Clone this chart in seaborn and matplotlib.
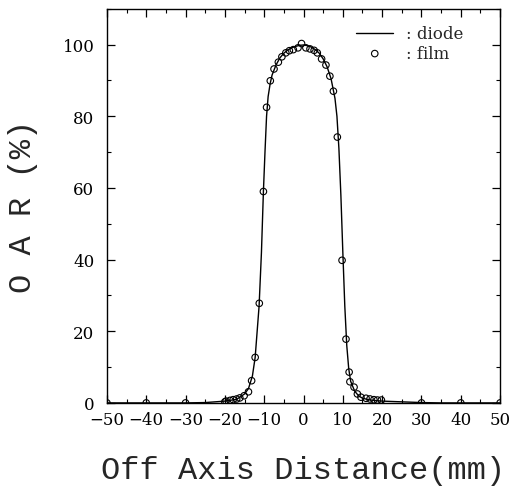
import matplotlib
matplotlib.use("Agg")
import matplotlib.pyplot as plt
import seaborn as sns
import pandas as pd
from matplotlib.ticker import MultipleLocator, FuncFormatter

# Diode (line) data
diode_x = [-50, -40, -30, -25, -20, -17, -15, -14, -13, -12.3, -11.3, -10.7, -10.2, -9.8, -9.4,
           -9, -8.5, -8, -7, -6, -5, -4, -3, -2, -1, 0, 1, 2, 3, 4, 5, 6, 7, 8, 8.5, 9, 9.5,
           10, 10.5, 11, 11.5, 12, 13, 14, 15, 17, 20, 25, 30, 35, 40, 50]
diode_y = [0, 0, 0, 0.1, 0.5, 1.0, 2.5, 4.0, 7.5, 12.7, 27, 42, 59, 70, 80,
           85.5, 89, 91.5, 94.3, 96.3, 97.6, 98.5, 99.1, 99.5, 99.8, 99.9, 99.7, 99.3, 98.6, 97.6, 96.0, 93.8, 90.5, 85, 80, 71, 58,
           42, 27, 16, 9.5, 6, 3.3, 2.0, 1.3, 0.8, 0.5, 0.3, 0.1, 0, 0, 0]

# Film (open circles) data
film_x = [-50, -40, -30, -20, -19.7, -18.7, -17.9, -17, -16.2, -15.1, -14.0, -13.2, -12.3, -11.25, -10.2,
          -9.4, -8.45, -7.5, -6.4, -5.5, -4.5, -3.6, -2.6, -1.4, -0.5, 0.6, 1.65, 2.7, 3.5, 4.6,
          5.7, 6.7, 7.6, 8.6, 9.8, 10.8, 11.6, 11.8, 12.85, 13.7, 14.6, 15.9, 16.9, 17.9, 18.8,
          19.8, 30, 40, 50]
film_y = [0, 0, 0, 0.3, 0.5, 0.7, 0.9, 1.1, 1.4, 2.0, 3.1, 6.2, 12.7, 27.8, 59,
          82.5, 89.9, 93.2, 95.1, 96.6, 97.7, 98.3, 98.6, 99.1, 100.3, 99.1, 98.8, 98.4, 97.7, 96.0,
          94.3, 91.2, 87.0, 74.2, 39.8, 17.8, 8.6, 5.9, 4.4, 2.5, 1.6, 1.3, 1.1, 0.9, 0.8,
          0.8, 0, 0, 0]

xticks = [-50, -40, -30, -20, -10, 0, 10, 20, 30, 40, 50]
yticks = [0, 20, 40, 60, 80, 100]

diode = pd.DataFrame({"x": diode_x, "y": diode_y})
film = pd.DataFrame({"x": film_x, "y": film_y})

sns.set_style("ticks")
plt.rcParams["font.family"] = ["DejaVu Serif"]

fig = plt.figure(figsize=(5.14, 4.89), dpi=100)
ax = fig.add_axes([0.208, 0.174, 0.765, 0.806])

sns.lineplot(data=diode, x="x", y="y", ax=ax, color="black", linewidth=1.0,
             label=": diode", sort=False)
sns.scatterplot(data=film, x="x", y="y", ax=ax, marker="o", s=22,
                facecolors="none", edgecolor="black", linewidth=0.8, label=": film")

ax.set_xlim(-50, 50)
ax.set_ylim(0, 110)
ax.set_xticks(xticks)
ax.set_yticks(yticks)
ax.xaxis.set_minor_locator(MultipleLocator(5))
ax.yaxis.set_minor_locator(MultipleLocator(10))
ax.xaxis.set_major_formatter(FuncFormatter(lambda v, p: f"{int(v)}".replace("-", "\u2212")))
ax.tick_params(which="both", direction="in", top=True, right=True, colors="black",
               labelsize=12)
ax.tick_params(which="major", length=6, width=0.9)
ax.tick_params(which="minor", length=3, width=0.8)
ax.tick_params(axis="y", which="major", pad=9)
ax.tick_params(axis="x", which="major", pad=6)
for s in ax.spines.values():
    s.set_linewidth(1.0)
    s.set_color("black")

ax.set_xlabel("Off Axis Distance(mm)", family="Liberation Mono", fontsize=23, labelpad=19)
ax.set_ylabel("O A R (%)", family="Liberation Mono", fontsize=23, labelpad=18)

leg = ax.legend(loc="upper right", frameon=False, fontsize=12, handlelength=2.2,
                handletextpad=0.8, borderaxespad=0.6, labelspacing=0.15,
                bbox_to_anchor=(0.95, 1.0))

fig.savefig("out.png", dpi=100)
